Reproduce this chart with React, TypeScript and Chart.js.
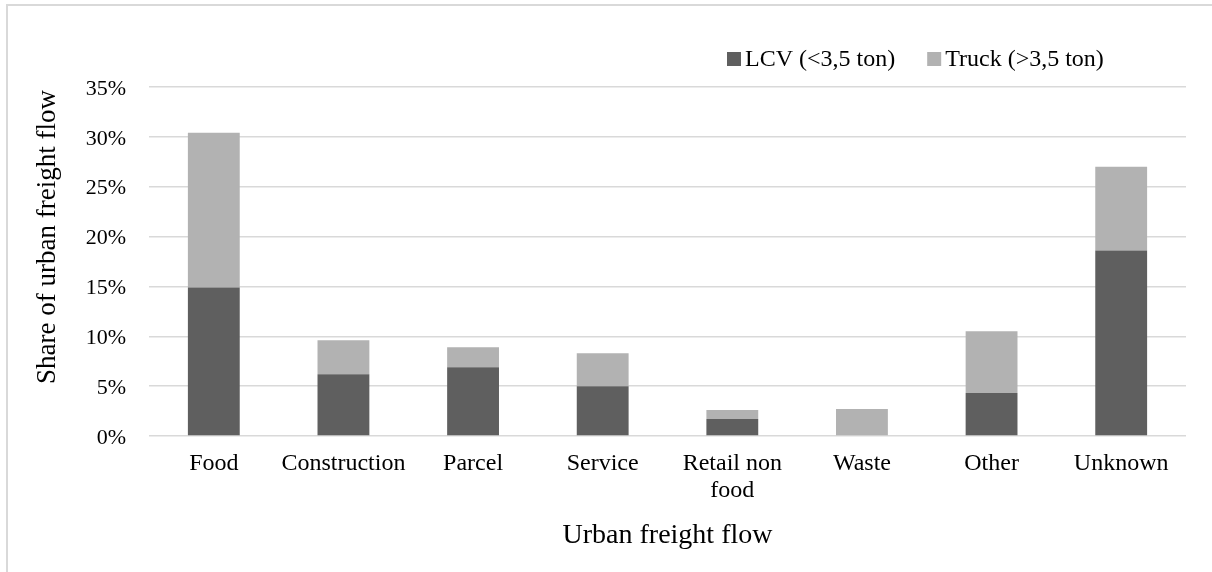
import React, { useEffect, useRef } from "react";
import { Chart, registerables } from "chart.js";

Chart.register(...registerables);

const categories: (string | string[])[] = [
  "Food",
  "Construction",
  "Parcel",
  "Service",
  ["Retail non", "food"],
  "Waste",
  "Other",
  "Unknown",
];
const lcvValues = [14.9, 6.2, 6.9, 5.0, 1.7, 0, 4.3, 18.6];
const truckValues = [15.5, 3.4, 2.0, 3.3, 0.9, 2.7, 6.2, 8.4];
const seriesLabels = ["LCV (<3,5 ton)", "Truck (>3,5 ton)"];
const yTickValues = [0, 5, 10, 15, 20, 25, 30, 35];
const xAxisTitle = "Urban freight flow";
const yAxisTitle = "Share of urban freight flow";

const FONT = "'Liberation Serif', 'Times New Roman', serif";
const DARK = "#5f5f5f";
const LIGHT = "#b2b2b2";

const decorPlugin = {
  id: "decor",
  afterDraw(chart: any) {
    const ctx = chart.ctx as CanvasRenderingContext2D;
    const area = chart.chartArea;
    ctx.save();
    // legend
    ctx.font = `24px ${FONT}`;
    ctx.textBaseline = "alphabetic";
    ctx.textAlign = "left";
    let x = 727;
    chart.data.datasets.forEach((ds: any) => {
      ctx.fillStyle = ds.backgroundColor;
      ctx.fillRect(x, 52, 14, 14);
      ctx.fillStyle = "#000";
      ctx.fillText(ds.label, x + 18, 66);
      x += 18 + ctx.measureText(ds.label).width + 32;
    });
    // x axis title
    ctx.font = `28px ${FONT}`;
    ctx.textAlign = "center";
    ctx.fillStyle = "#000";
    ctx.fillText(xAxisTitle, (area.left + area.right) / 2, 543);
    // y axis title
    ctx.font = `27px ${FONT}`;
    ctx.translate(48, 237);
    ctx.rotate(-Math.PI / 2);
    ctx.textBaseline = "middle";
    ctx.fillText(yAxisTitle, 0, 0);
    ctx.restore();
  },
};

export default function App() {
  const ref = useRef<HTMLCanvasElement | null>(null);
  useEffect(() => {
    if (!ref.current) return;
    const chart = new Chart(ref.current, {
      type: "bar",
      data: {
        labels: categories as any,
        datasets: [
          {
            label: seriesLabels[0],
            data: lcvValues,
            backgroundColor: DARK,
            categoryPercentage: 1,
            barPercentage: 0.4,
          },
          {
            label: seriesLabels[1],
            data: truckValues,
            backgroundColor: LIGHT,
            categoryPercentage: 1,
            barPercentage: 0.4,
          },
        ],
      },
      options: {
        responsive: false,
        animation: false,
        devicePixelRatio: 1,
        layout: { padding: { top: 87, left: 0, right: 26, bottom: 0 } },
        plugins: {
          legend: { display: false },
          tooltip: { enabled: false },
        },
        scales: {
          x: {
            stacked: true,
            grid: { display: false, drawTicks: false },
            border: { display: false },
            ticks: {
              color: "#000",
              font: { family: FONT, size: 24, lineHeight: 1.1 },
              padding: 15,
              maxRotation: 0,
              autoSkip: false,
            },
            afterFit: (scale: any) => {
              scale.height = 136;
            },
          },
          y: {
            stacked: true,
            min: 0,
            max: 35,
            afterBuildTicks: (scale: any) => {
              scale.ticks = yTickValues.map((v) => ({ value: v }));
            },
            grid: { color: "#d9d9d9", lineWidth: 1.5, drawTicks: false },
            border: { display: false },
            ticks: {
              color: "#000",
              font: { family: FONT, size: 22 },
              padding: 23,
              labelOffset: 2,
              callback: (v: any) => `${v}%`,
            },
            afterFit: (scale: any) => {
              scale.width = 149;
            },
          },
        },
      },
      plugins: [decorPlugin],
    });
    return () => chart.destroy();
  }, []);

  return (
    <>
      <div
        style={{
          position: "fixed",
          left: 6,
          top: 4,
          width: 1206,
          height: 568,
          borderTop: "2px solid #d9d9d9",
          borderLeft: "2px solid #d9d9d9",
          boxSizing: "border-box",
        }}
      />
      <canvas
        ref={ref}
        width={1212}
        height={572}
        style={{ position: "fixed", left: 0, top: 0, width: 1212, height: 572 }}
      />
    </>
  );
}
